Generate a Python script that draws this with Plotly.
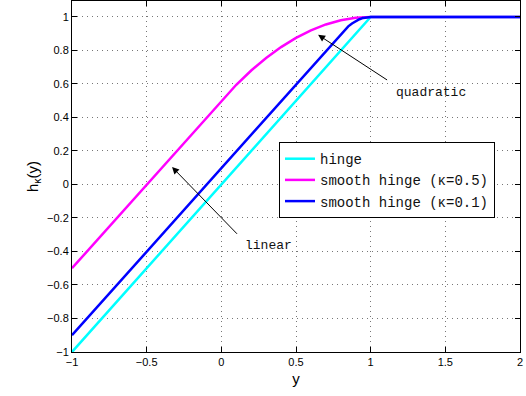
import plotly.graph_objects as go

# data
hinge_x = [-1.0, 1.0, 2.0]
hinge_y = [-1.0, 1.0, 1.0]

sh05_x = [-1.0, 0.0, 0.1, 0.2, 0.3, 0.4, 0.5, 0.6, 0.7, 0.8, 0.9, 1.0, 2.0]
sh05_y = [-0.5, 0.5, 0.595, 0.68, 0.755, 0.82, 0.875, 0.92, 0.955, 0.98, 0.995, 1.0, 1.0]

sh01_x = [-1.0, 0.8, 0.825, 0.85, 0.875, 0.9, 0.925, 0.95, 0.975, 1.0, 2.0]
sh01_y = [-0.9, 0.9, 0.923, 0.944, 0.961, 0.975, 0.986, 0.994, 0.998, 1.0, 1.0]

x_ticks = [-1, -0.5, 0, 0.5, 1, 1.5, 2]
y_ticks = [-1, -0.8, -0.6, -0.4, -0.2, 0, 0.2, 0.4, 0.6, 0.8, 1]

fig = go.Figure()
fig.add_trace(go.Scatter(x=hinge_x, y=hinge_y, mode="lines", name="hinge",
                         line=dict(color="#00FFFF", width=2.5)))
fig.add_trace(go.Scatter(x=sh05_x, y=sh05_y, mode="lines", name="smooth hinge (κ=0.5)",
                         line=dict(color="#FF00FF", width=2.5)))
fig.add_trace(go.Scatter(x=sh01_x, y=sh01_y, mode="lines", name="smooth hinge (κ=0.1)",
                         line=dict(color="#0000FF", width=2.5)))

axis_common = dict(showline=True, linecolor="black", linewidth=1, mirror="ticks",
                   ticks="inside", ticklen=5, tickcolor="black",
                   showgrid=True, gridcolor="#777777", griddash="1px,4px", gridwidth=1,
                   zeroline=False, tickfont=dict(family="Liberation Sans, Arial", size=11, color="black"))

fig.update_xaxes(range=[-1, 2], tickvals=x_ticks, ticktext=[("−" + str(abs(v))) if v < 0 else str(v) for v in x_ticks],
                 title=dict(text="y", font=dict(family="Liberation Sans, Arial", size=15, color="black"), standoff=6),
                 **axis_common)
fig.update_yaxes(range=[-1, 1.095], tickvals=y_ticks,
                 ticktext=[("−" + ("%g" % abs(v))) if v < 0 else ("%g" % v) for v in y_ticks],
                 title=dict(text="h<sub>κ</sub>(y)", font=dict(family="Liberation Sans, Arial", size=15, color="black"), standoff=4),
                 **axis_common)

mono = dict(family="Liberation Mono, Courier New, monospace", size=13, color="#111111")
legend_font = dict(family="Liberation Mono, Courier New, monospace", size=14, color="#111111")

fig.add_annotation(x=0.648, y=0.893, ax=1.13, ay=0.612, xref="x", yref="y", axref="x", ayref="y",
                   showarrow=True, arrowhead=2, arrowsize=1.4, arrowwidth=1, arrowcolor="black", text=" ")
fig.add_annotation(x=1.405, y=0.55, xref="x", yref="y", text="quadratic", showarrow=False, font=mono)
fig.add_annotation(x=-0.33, y=0.104, ax=0.125, ay=-0.313, xref="x", yref="y", axref="x", ayref="y",
                   showarrow=True, arrowhead=2, arrowsize=1.4, arrowwidth=1, arrowcolor="black", text=" ")
fig.add_annotation(x=0.313, y=-0.365, xref="x", yref="y", text="linear", showarrow=False, font=mono)

fig.update_layout(
    width=526, height=396,
    margin=dict(l=72, r=6, t=1, b=44),
    plot_bgcolor="white", paper_bgcolor="white",
    legend=dict(x=0.462, y=0.598, xanchor="left", yanchor="top",
                bordercolor="black", borderwidth=1, bgcolor="white",
                font=legend_font, tracegroupgap=0, itemwidth=30),
)

fig.write_html("out.html")
